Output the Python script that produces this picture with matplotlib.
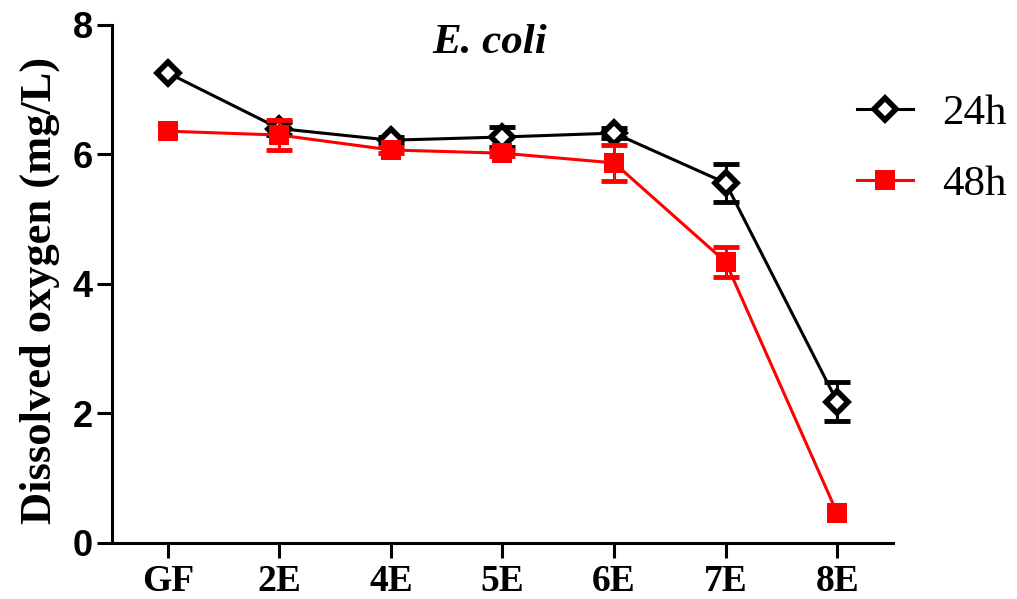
import numpy as np
import matplotlib
matplotlib.use("Agg")
import matplotlib.pyplot as plt

# values
groups = ["GF", "2E", "4E", "5E", "6E", "7E", "8E"]
do_24h = [7.26, 6.40, 6.22, 6.27, 6.33, 5.56, 2.18]
err_24h = [0.0, 0.10, 0.05, 0.15, 0.08, 0.29, 0.30]
do_48h = [6.36, 6.30, 6.07, 6.02, 5.87, 4.34, 0.46]
err_48h = [0.0, 0.23, 0.05, 0.05, 0.28, 0.23, 0.0]
y_ticks = [0, 2, 4, 6, 8]

SERIF = "Liberation Serif"
SANS = "Liberation Sans"

fig = plt.figure(figsize=(10.17, 5.99), dpi=100)
ax = fig.add_axes([0.1101, 0.0935, 0.768, 0.8648])

x = np.arange(len(groups))


def draw_err(vals, errs, col, z):
    # points without spread get no error bar at all
    vals = np.array(vals)
    errs = np.array(errs)
    keep = errs > 0
    ax.errorbar(x[keep], vals[keep], yerr=errs[keep], fmt="none", ecolor=col,
                elinewidth=2.2, capsize=9.7, capthick=3.5, zorder=z)


draw_err(do_24h, err_24h, "black", 2)
ax.plot(x, do_24h, color="black", lw=2.2, marker="D", ms=11.3,
        mfc="white", mec="black", mew=4, label="24h", zorder=3)
draw_err(do_48h, err_48h, "#ff0000", 4)
ax.plot(x, do_48h, color="#ff0000", lw=2.2, marker="s", ms=15,
        mfc="#ff0000", mec="#ff0000", mew=0, label="48h", zorder=5)

ax.set_xlim(-0.5, 6.5)
ax.set_ylim(0, 8)
ax.set_xticks(x)
ax.set_xticklabels(groups, fontsize=27, fontweight="bold", family=SERIF)
ax.set_yticks(y_ticks)
ax.set_yticklabels([str(v) for v in y_ticks], fontsize=26, fontweight="bold", family=SANS)

for s in ["top", "right"]:
    ax.spines[s].set_visible(False)
for s in ["left", "bottom"]:
    ax.spines[s].set_linewidth(2.2)
ax.tick_params(axis="both", length=10.8, width=2.2, color="black")
ax.tick_params(axis="y", pad=3)
ax.tick_params(axis="x", pad=4)

fig.text(40 / 1017, 1 - 290 / 599, "Dissolved oxygen (mg/L)", rotation=90,
         ha="center", va="center", fontsize=32, fontweight="bold", family=SERIF)
fig.text(490 / 1017, 1 - 43 / 599, "E. coli", ha="center", va="center",
         fontsize=31, fontweight="bold", fontstyle="italic", family=SERIF)

handles, labels = ax.get_legend_handles_labels()
fig.legend(handles, labels, loc="center left", bbox_to_anchor=(857 / 1017, 1 - 149 / 599),
           frameon=False, borderpad=0, borderaxespad=0, handlelength=1.3,
           handletextpad=0.68, labelspacing=0.75, prop={"family": SERIF, "size": 31})

fig.savefig("out.png", dpi=100)
